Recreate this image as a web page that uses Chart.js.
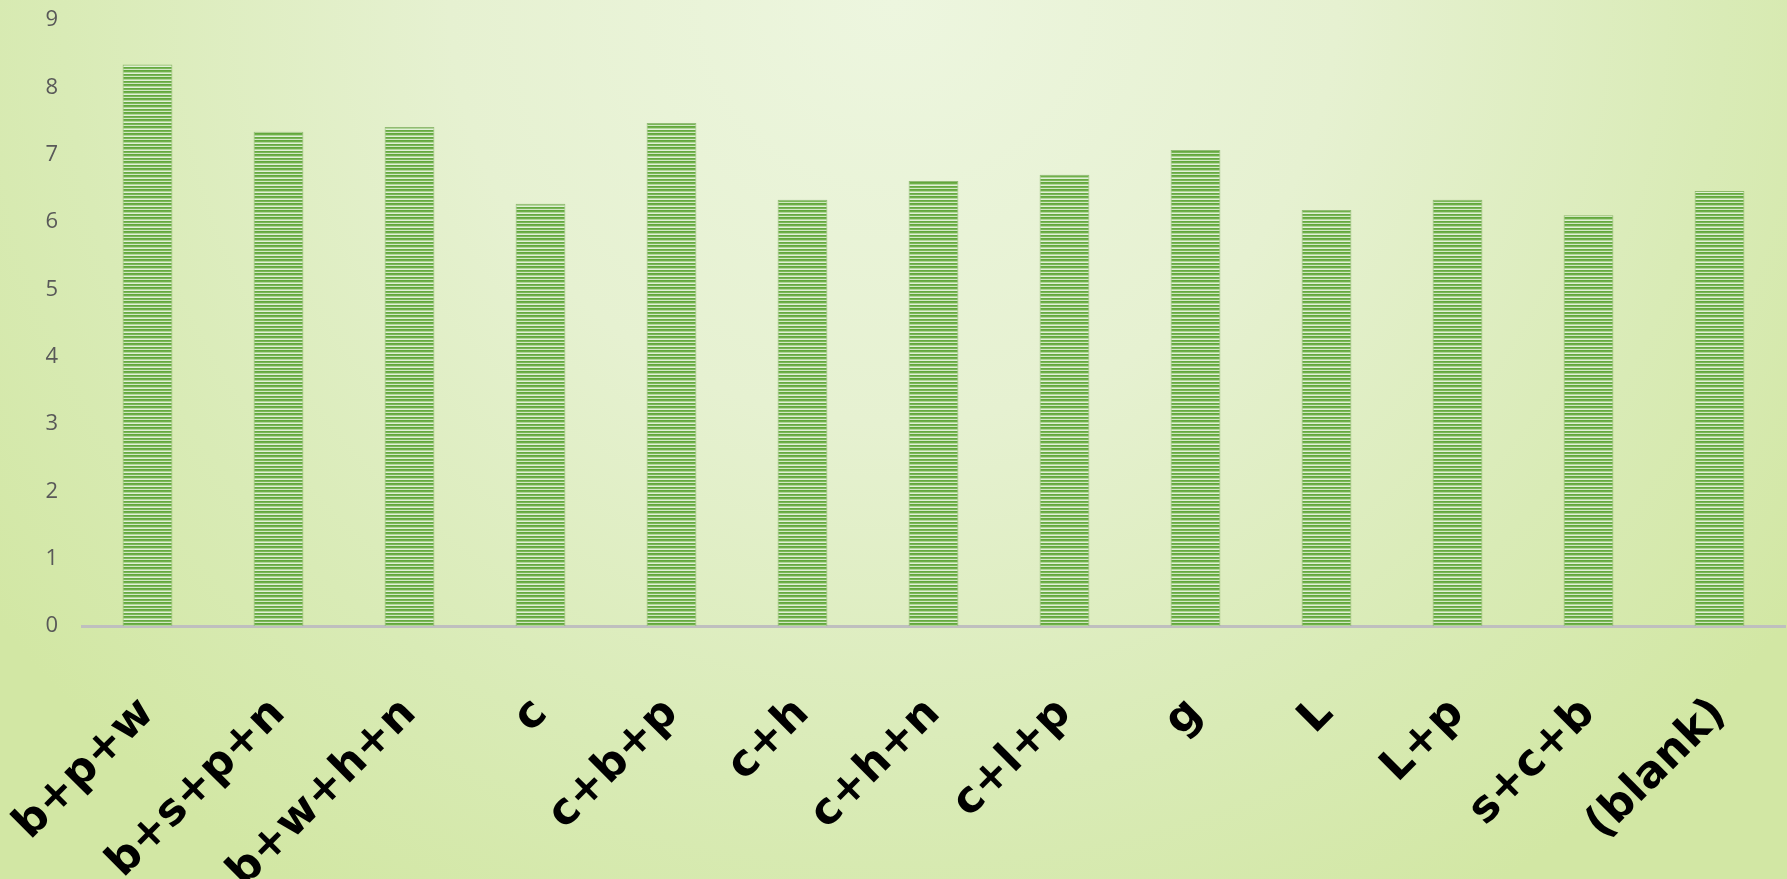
<!DOCTYPE html>
<html>
<head>
<meta charset="utf-8">
<script src="https://cdn.jsdelivr.net/npm/chart.js@4/dist/chart.umd.min.js"></script>
<style>
  html, body { margin: 0; padding: 0; overflow: hidden; }
  body {
    width: 1787px; height: 879px;
    background: radial-gradient(ellipse 62% 120% at 50% 0%, #edf6df 0%, #e6f1d1 40%, #d9ebb6 75%, #d2e7a4 100%);
  }
  #wrap { position: relative; width: 1787px; height: 879px; }
</style>
</head>
<body>
<div id="wrap"><canvas id="comboChart"></canvas></div>
<script>
const categories = ["b+p+w", "b+s+p+n", "b+w+h+n", "c", "c+b+p", "c+h", "c+h+n", "c+l+p", "g", "L", "L+p", "s+c+b", "(blank)"];
const values = [8.34, 7.34, 7.41, 6.27, 7.47, 6.33, 6.61, 6.70, 7.07, 6.18, 6.33, 6.10, 6.46];
const yTicks = [0, 1, 2, 3, 4, 5, 6, 7, 8, 9];

document.addEventListener("DOMContentLoaded", function () {
  const chartEl = document.getElementById("comboChart");

  // narrow horizontal stripes like the Excel fill
  const pc = document.createElement("canvas");
  pc.width = 4;
  pc.height = 7;
  const px = pc.getContext("2d");
  const rows = ["#62a73c", "#70b04b", "#b0d698", "#e2f0d8", "#66a941", "#7ab758", "#d2e8c4"];
  rows.forEach(function (c, i) {
    px.fillStyle = c;
    px.fillRect(0, i, 4, 1);
  });
  const stripes = px.createPattern(pc, "repeat");

  new Chart(chartEl, {
    type: "bar",
    data: {
      labels: categories,
      datasets: [{
        label: "values",
        data: values,
        backgroundColor: stripes,
        borderColor: "rgba(90,150,55,0.6)",
        borderWidth: 1,
        barPercentage: 0.76,
        categoryPercentage: 0.5
      }]
    },
    options: {
      responsive: true,
      maintainAspectRatio: false,
      animation: false,
      layout: { padding: { top: 20, right: 2, left: 0, bottom: 0 } },
      plugins: {
        legend: { display: false },
        title: { display: false },
        tooltip: { enabled: false }
      },
      scales: {
        x: {
          grid: { display: false, drawTicks: false },
          border: { display: true, color: "#bfbfbf", width: 3 },
          ticks: {
            color: "#000000",
            maxRotation: 45,
            minRotation: 45,
            padding: 62,
            font: { family: "DejaVu Sans", weight: "bold", size: 44 }
          },
          afterFit: function (scale) {
            scale.height = 253;
            scale.paddingLeft = 0;
            scale.paddingRight = 0;
            scale.paddingTop = 0;
            scale.paddingBottom = 0;
          }
        },
        y: {
          min: 0,
          max: 9,
          grid: { display: false, drawTicks: false },
          border: { display: false },
          afterBuildTicks: function (scale) {
            scale.ticks = yTicks.map(function (v) { return { value: v }; });
          },
          ticks: {
            color: "#595959",
            padding: 24,
            font: { family: "Open Sans", size: 22 }
          },
          afterFit: function (scale) {
            scale.width = 82;
            scale.paddingTop = 0;
            scale.paddingBottom = 0;
          }
        }
      }
    }
  });
});
</script>
</body>
</html>
